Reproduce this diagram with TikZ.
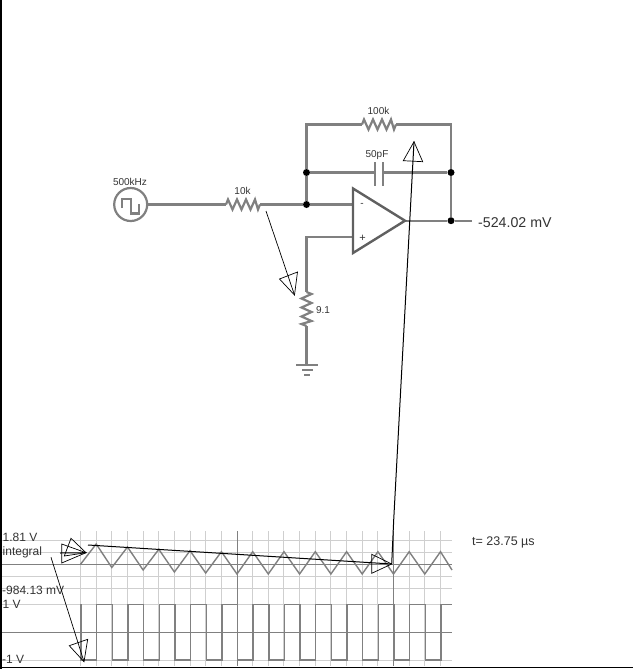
\documentclass[tikz,border=0pt]{standalone}
\usepackage{fontspec}
\setmainfont{Liberation Sans}
\definecolor{wiregray}{HTML}{808080}
\definecolor{ampgray}{HTML}{606060}
\definecolor{gridlight}{HTML}{CFCFCF}
\definecolor{textgray}{HTML}{333333}
\tikzstyle{wire}=[
	draw=wiregray,
	line width=2.2pt
]
\tikzstyle{junction}=[
	circle,
	fill=black,
	inner sep=0pt,
	minimum size=7pt
]
\tikzstyle{value}=[
	text=textgray,
	font=\fontsize{10}{12}\selectfont,
	inner sep=0pt
]
\tikzstyle{readout}=[
	text=textgray,
	font=\fontsize{12}{14}\selectfont,
	inner sep=0pt,
	anchor=west
]
\tikzstyle{probe}=[
	draw=black,
	line width=0.7pt
]
\tikzstyle{probemain}=[
	draw=black,
	line width=1pt
]
\tikzstyle{gridline}=[
	draw=gridlight,
	line width=1pt
]
\tikzstyle{gridmajor}=[
	draw=wiregray,
	line width=1pt
]
\tikzstyle{trace}=[
	draw=wiregray,
	line width=1.4pt,
	line join=miter
]
\tikzset{
	zigzag/.pic={
		\draw[wire] (0,0) -- (2,-5) -- (6.5,5) -- (11,-5) -- (15.5,5) -- (20,-5) -- (24.5,5) -- (29,-5) -- (32,5) -- (34,0);
	}
}

\begin{document}
\begin{tikzpicture}[x=1pt,y=-1pt]
\useasboundingbox (0,0) rectangle (633,669);
% frame edges
\draw[black, line width=2pt] (0.5,0) -- (0.5,669);
\draw[black, line width=1.2pt] (0,667.8) -- (633,667.8);

% scope grid
\foreach \k in {0,...,23} {
	\draw[gridline] (80.5+15.65*\k,531) -- (80.5+15.65*\k,666);
}
\foreach \yy in {540.7,552.3,576,588,604.3,660} {
	\draw[gridline] (2,\yy) -- (452,\yy);
}
\foreach \yy in {564.3,632.3} {
	\draw[gridmajor] (2,\yy) -- (452,\yy);
}
\foreach \xx in {237,393.7} {
	\draw[gridmajor] (\xx,531) -- (\xx,666);
}

% traces
\draw[trace] (80.5,564.3) -- (96.2,544) -- (111.8,567.5) -- (127.5,547) -- (143.1,570) -- (158.8,549.3) -- (174.4,572) -- (190,550.7) -- (205.7,573) -- (221.4,551.7) -- (237,574) -- (252.7,551.7) -- (268.3,574) -- (284,551.7) -- (299.6,574) -- (315.3,551.7) -- (330.9,574) -- (346.6,551.7) -- (362.2,574) -- (377.9,551.7) -- (393.5,574) -- (409.2,551.7) -- (424.8,574) -- (440.5,551.7) -- (452,570);
\draw[trace] (81,604.3) -- (81,660) foreach \k in {1,3,...,21} { -- ++(15.65,0) -- ++(0,-55.7) -- ++(15.65,0) -- ++(0,55.7) } -- ++(15.65,0) -- ++(0,-55.7) -- (452,604.3);

% circuit points
\node [circle, draw=wiregray, line width=2.2pt, inner sep=0pt, minimum size=33pt] (source) at (130.7,204.5) {};
\coordinate (r10kin) at (226,204.5);
\coordinate (r10kout) at (260,204.5);
\node [junction] (inputnode) at (306.5,204.5) {};
\node [junction] (capleft) at (306.5,172.5) {};
\node [junction] (capright) at (451,172.5) {};
\node [junction] (outnode) at (451,220.7) {};
\coordinate (topleft) at (306.5,124.5);
\coordinate (topright) at (451,124.5);
\coordinate (r100kin) at (362,124.5);
\coordinate (r100kout) at (396,124.5);
\coordinate (plateleft) at (375,172.5);
\coordinate (plateright) at (382.7,172.5);
\coordinate (ampa) at (353,188.5);
\coordinate (ampb) at (353,253);
\coordinate (ampc) at (405,220.7);
\coordinate (minusin) at (353,204.5);
\coordinate (plusin) at (353,237);
\coordinate (pluscorner) at (306.5,237);
\coordinate (r91in) at (306.5,292);
\coordinate (r91out) at (306.5,326);
\coordinate (gnd) at (306.5,365);
\coordinate (outend) at (472,220.7);

% wires
\draw[wire] (source) -- (r10kin);
\draw[wire] (r10kout) -- (inputnode);
\draw[wire] (inputnode) -- (minusin);
\draw[wire] (inputnode) -- (capleft);
\draw[wire] (capleft) -- (topleft) -- (r100kin);
\draw[wire] (r100kout) -- (topright) -- (capright);
\draw[wire] (capright) -- (outnode);
\draw[wire] (capleft) -- (plateleft);
\draw[wire] (plateright) -- (capright);
\draw[wire] (ampc) -- (outnode);
\draw[wire] (outnode) -- (outend);
\draw[wire] (plusin) -- (pluscorner) -- (r91in);
\draw[wire] (r91out) -- (gnd);
\pic at (r10kin) {zigzag};
\pic at (r100kin) {zigzag};
\pic[rotate=-90] at (r91in) {zigzag};
\draw[wire] (375,162) -- (375,185.5);
\draw[wire] (382.7,162) -- (382.7,185.5);
\draw[draw=ampgray, line width=2.4pt, line join=miter] (ampa) -- (ampb) -- (ampc) -- cycle;
\draw[wire] (296,365) -- (318,365);
\draw[wire] (302,370) -- (313,370);
\draw[wire] (304,375) -- (310,375);
\draw[wire] (122.3,208) -- (122.3,199) -- (130.7,199) -- (130.7,213.5) -- (139,213.5) -- (139,204);

% labels
\node [value] (sourcelabel) at (130,182) {500kHz};
\node [value] (r10klabel) at (242.5,190.5) {10k};
\node [value] (r91label) at (323,310) {9.1};
\node [value] (r100klabel) at (378.5,110.5) {100k};
\node [value] (caplabel) at (377,155) {50pF};
\node [value] (minuslabel) at (362,205) {-};
\node [value, font=\fontsize{11}{12}\selectfont] (pluslabel) at (362.5,238) {+};
\node [readout, font=\fontsize{14.2}{16}\selectfont] (outlabel) at (478,222.5) {-524.02 mV};
\node [readout] (maxlabel) at (2.5,537.5) {1.81 V};
\node [readout] (namelabel) at (2.5,552.5) {integral};
\node [readout] (minlabel) at (2,590) {-984.13 mV};
\node [readout] (highlabel) at (2.5,604.5) {1 V};
\node [readout] (lowlabel) at (2,659.5) {-1 V};
\node [readout, font=\fontsize{12.5}{14}\selectfont] (timelabel) at (472,542) {t= 23.75 µs};

% probes
\coordinate (stubA) at (266,211);
\coordinate (tipA) at (294.5,295);
\draw[probe] (stubA) -- (tipA);
\draw[probe] (tipA) -- (279.5,279) -- (297.5,272) -- cycle;
\coordinate (stubB) at (88,545);
\coordinate (tipB) at (391.7,564);
\draw[probemain] (stubB) -- (tipB);
\draw[probe] (tipB) -- (371.7,554.3) -- (371.7,573.3) -- cycle;
\coordinate (tipC) at (414,141.7);
\draw[probemain] (tipB) -- (393.7,520) -- (tipC);
\draw[probe] (tipC) -- (403.3,160.7) -- (422.7,161.7) -- cycle;
\coordinate (stubD) at (60,553);
\coordinate (tipD) at (86,552.7);
\draw[probemain] (stubD) -- (tipD);
\draw[probe] (tipD) -- (61.7,544) -- (61.7,563) -- cycle;
\draw[probe] (tipD) -- (64.3,556) -- (71,538.3) -- cycle;
\coordinate (stubE) at (51,557.3);
\coordinate (tipE) at (84,661.7);
\draw[probe] (stubE) -- (tipE);
\draw[probe] (tipE) -- (69.3,645.7) -- (87.7,639.3) -- cycle;
\end{tikzpicture}
\end{document}
